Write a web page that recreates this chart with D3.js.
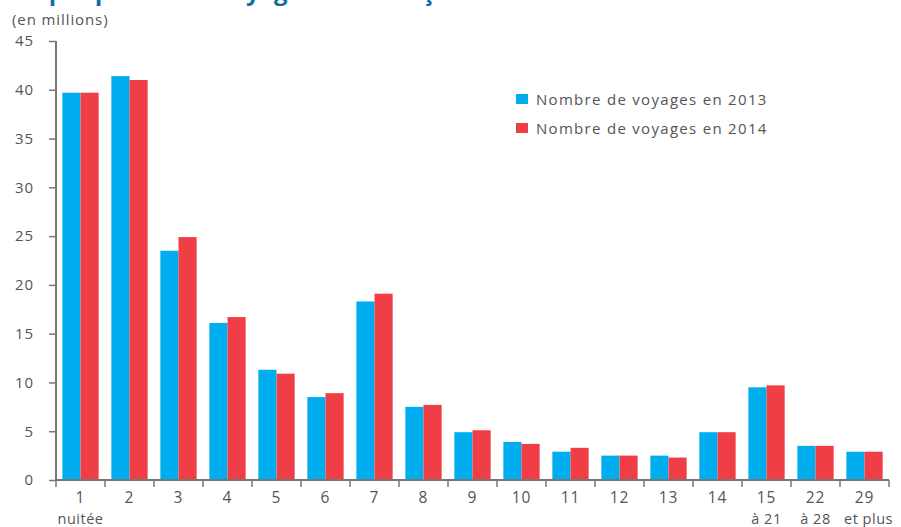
<!DOCTYPE html>
<html><head><meta charset="utf-8">
<script src="https://cdn.jsdelivr.net/npm/d3@7"></script>
<style>body{margin:0;background:#fff}svg{display:block}text{font-family:"Open Sans",sans-serif;letter-spacing:0.9px}</style>
</head><body>
<svg id="c" width="901" height="527"></svg>
<script>
const categories = ["1","2","3","4","5","6","7","8","9","10","11","12","13","14","15","22","29"];
const subLabels = ["nuitée","","","","","","","","","","","","","","à 21","à 28","et plus"];
const voyages2013 = [39.7,41.4,23.5,16.1,11.3,8.5,18.3,7.5,4.9,3.9,2.9,2.5,2.5,4.9,9.5,3.5,2.9];
const voyages2014 = [39.7,41.0,24.9,16.7,10.9,8.9,19.1,7.7,5.1,3.7,3.3,2.5,2.3,4.9,9.7,3.5,2.9];
const seriesNames = ["Nombre de voyages en 2013","Nombre de voyages en 2014"];
const colors = ["#00AEEF","#EF3E45"];
const yTicks = [0,5,10,15,20,25,30,35,40,45];

const svg = d3.select("#c");
const x0 = 56, x1 = 889, yb = 480, yt = 41;
const x = d3.scaleBand().domain(categories).range([x0,x1]).paddingInner(0).paddingOuter(0);
const xs = d3.scaleBand().domain([0,1]).range([0,x.bandwidth()]).paddingInner(0).paddingOuter(0.35);
const y = d3.scaleLinear().domain([0,45]).range([yb,yt]);

// title, clipped at the top edge as in the reference (only descenders visible)
svg.append("text").attr("x",6).attr("y",0).attr("font-size",24).attr("font-weight","bold")
  .style("letter-spacing","0px")
  .attr("fill","#0D6FA0").text("Graphique 3 : Les voyages des Français selon leur durée");

svg.append("text").attr("x",12).attr("y",25).attr("font-size",15).attr("fill","#555").text("(en millions)");

// bars
const data = categories.map((c,i)=>({c, v:[voyages2013[i],voyages2014[i]]}));
const g = svg.append("g");
g.selectAll("g.cat").data(data).join("g").attr("class","cat")
  .attr("transform",d=>`translate(${x(d.c)},0)`)
  .selectAll("rect").data(d=>d.v.map((v,k)=>({v,k}))).join("rect")
  .attr("x",d=>xs(d.k)).attr("width",xs.bandwidth())
  .attr("y",d=>y(d.v)).attr("height",d=>yb-y(d.v))
  .attr("fill",d=>colors[d.k]);

// y axis
const yAxis = d3.axisLeft(y).tickValues(yTicks).tickSize(7).tickPadding(15);
const ya = svg.append("g").attr("transform",`translate(${x0},0)`).call(yAxis);
ya.select(".domain").attr("stroke","#777").attr("stroke-width",2).attr("d",`M0,${yt}V${yb}`);
ya.selectAll(".tick line").attr("stroke","#777").attr("stroke-width",1.5);
ya.selectAll(".tick text").attr("font-size",15).attr("fill","#555").attr("font-family","Open Sans");

// x axis
const xa = svg.append("g").attr("transform",`translate(0,${yb})`);
xa.append("path").attr("d",`M${x0},0H${x1}`).attr("stroke","#777").attr("stroke-width",2);
const bounds = categories.map(c=>x(c)).concat([x1]);
xa.selectAll("line.t").data(bounds).join("line").attr("class","t")
  .attr("x1",d=>d).attr("x2",d=>d).attr("y1",0).attr("y2",7).attr("stroke","#777").attr("stroke-width",1.5);
xa.selectAll("text.l1").data(categories).join("text").attr("class","l1")
  .attr("x",d=>x(d)+x.bandwidth()/2).attr("y",23).attr("text-anchor","middle")
  .attr("font-size",15.5).attr("fill","#555").text(d=>d);
xa.selectAll("text.l2").data(subLabels).join("text").attr("class","l2")
  .attr("x",(d,i)=>x(categories[i])+x.bandwidth()/2 + (i===16 ? 4 : 0)).attr("y",43.5).attr("text-anchor","middle")
  .attr("font-size",14.5).style("letter-spacing","0.5px").attr("fill","#555").text(d=>d);

// legend
const lg = svg.append("g").attr("transform","translate(516,94)");
seriesNames.forEach((s,i)=>{
  lg.append("rect").attr("x",0).attr("y",i*29).attr("width",12).attr("height",10).attr("fill",colors[i]);
  lg.append("text").attr("x",20).attr("y",i*29+11).attr("font-size",15).style("letter-spacing","1.3px")
    .attr("fill","#555").text(s);
});
</script>
</body></html>
